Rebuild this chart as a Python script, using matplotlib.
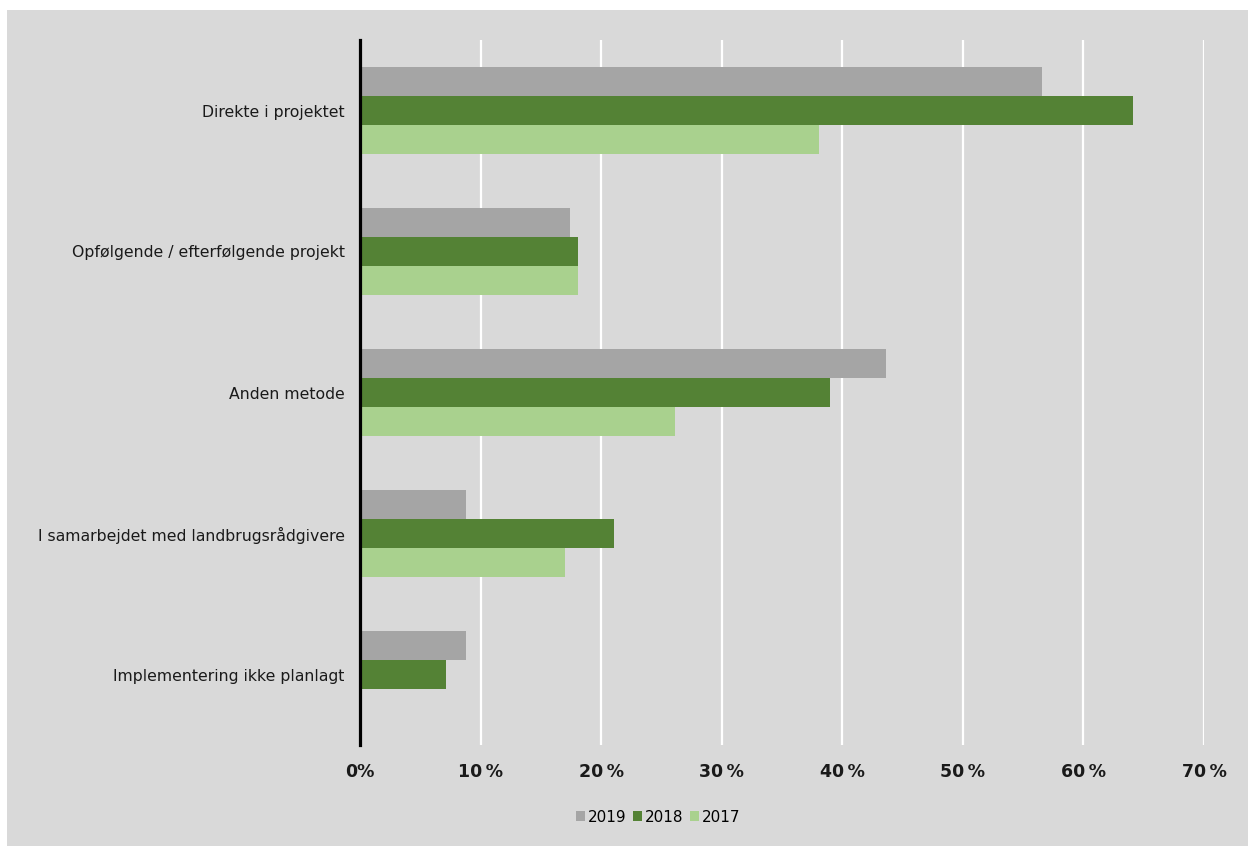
import numpy as np
import matplotlib.pyplot as plt
from matplotlib.patches import Rectangle
from matplotlib.ticker import FuncFormatter

# data
kategorier = ["Direkte i projektet",
              "Opfølgende / efterfølgende projekt",
              "Anden metode",
              "I samarbejdet med landbrugsrådgivere",
              "Implementering ikke planlagt"]
aar = ["2019", "2018", "2017"]
v2019 = [0.566, 0.174, 0.436, 0.088, 0.088]
v2018 = [0.641, 0.181, 0.390, 0.211, 0.071]
v2017 = [0.381, 0.181, 0.261, 0.170, 0.0]
farver = ["#a5a5a5", "#548235", "#a9d18e"]

fig = plt.figure(figsize=(12.48, 8.46), dpi=100)
fig.patch.set_facecolor("white")
# grå baggrund for hele diagramområdet
fig.patches.append(Rectangle((7 / 1248, 0), 1, 1 - 10 / 846,
                             transform=fig.transFigure, facecolor="#d9d9d9",
                             edgecolor="none", zorder=-10))

ax = fig.add_axes([360 / 1248, 1 - 745 / 846, (1204 - 360) / 1248, (745 - 40) / 846])
ax.set_facecolor("none")

y = np.arange(len(kategorier))
h = 0.206
serier = [v2019, v2018, v2017]
for i, (navn, vals) in enumerate(zip(aar, serier)):
    ax.barh(y + (i - 1) * h, vals, height=h, color=farver[i], label=navn, zorder=3)

ax.set_xlim(0, 0.7)
ax.set_ylim(len(kategorier) - 0.5, -0.5)
ax.set_xticks(np.arange(0, 0.71, 0.1))
ax.xaxis.set_major_formatter(FuncFormatter(lambda v, p: f"{v*100:.0f}\u2009%" if v > 0 else "0%"))
ax.set_yticks(y)
ax.set_yticklabels(kategorier, fontsize=11.3, family="DejaVu Sans", color="#1a1a1a")

for t in ax.get_xticklabels():
    t.set_fontweight("bold")
    t.set_fontsize(12.5)
    t.set_family("DejaVu Sans")
    t.set_color("#1a1a1a")

ax.tick_params(axis="x", length=0, pad=13)
ax.tick_params(axis="y", length=0, pad=11)
ax.grid(axis="x", color="white", linewidth=1.6, zorder=0)
ax.set_axisbelow(True)

for s in ["top", "right", "bottom"]:
    ax.spines[s].set_visible(False)
ax.spines["left"].set_color("black")
ax.spines["left"].set_linewidth(2.3)
ax.spines["left"].set_zorder(5)

fig.legend(loc="center", bbox_to_anchor=(658 / 1248, 1 - 817 / 846), ncol=3,
           frameon=False, prop={"family": "DejaVu Sans", "size": 11},
           handlelength=0.6, handleheight=0.6, handletextpad=0.2, columnspacing=0.4)

fig.savefig("out.png", dpi=100)
